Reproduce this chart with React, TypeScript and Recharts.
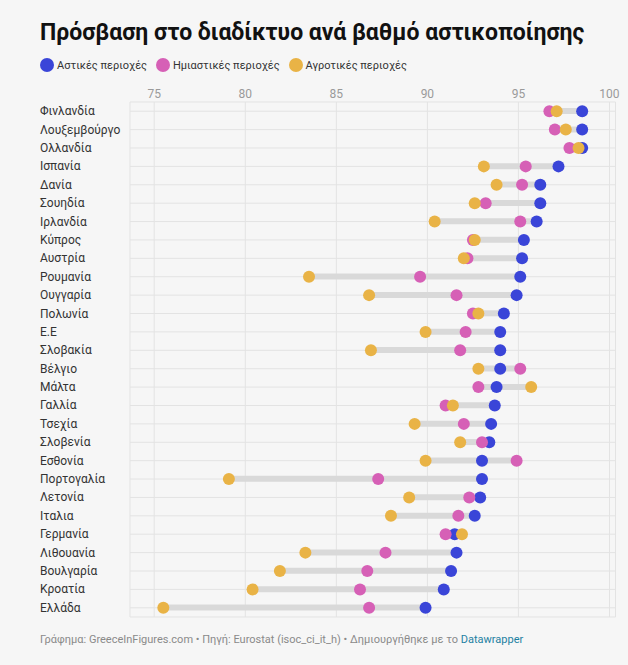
import { Bar, CartesianGrid, ComposedChart, Line, XAxis, YAxis } from 'recharts';

const countries = [
  'Φινλανδία', 'Λουξεμβούργο', 'Ολλανδία', 'Ισπανία', 'Δανία', 'Σουηδία', 'Ιρλανδία',
  'Κύπρος', 'Αυστρία', 'Ρουμανία', 'Ουγγαρία', 'Πολωνία', 'Ε.Ε', 'Σλοβακία',
  'Βέλγιο', 'Μάλτα', 'Γαλλία', 'Τσεχία', 'Σλοβενία', 'Εσθονία', 'Πορτογαλία',
  'Λετονία', 'Ιταλια', 'Γερμανία', 'Λιθουανία', 'Βουλγαρία', 'Κροατία', 'Ελλάδα',
];

const urban = [98.5, 98.5, 98.5, 97.2, 96.2, 96.2, 96.0, 95.3, 95.2, 95.1, 94.9, 94.2, 94.0, 94.0,
  94.0, 93.8, 93.7, 93.5, 93.4, 93.0, 93.0, 92.9, 92.6, 91.5, 91.6, 91.3, 90.9, 89.9];
const semiUrban = [96.7, 97.0, 97.8, 95.4, 95.2, 93.2, 95.1, 92.5, 92.2, 89.6, 91.6, 92.5, 92.1, 91.8,
  95.1, 92.8, 91.0, 92.0, 93.0, 94.9, 87.3, 92.3, 91.7, 91.0, 87.7, 86.7, 86.3, 86.8];
const rural = [97.1, 97.6, 98.3, 93.1, 93.8, 92.6, 90.4, 92.6, 92.0, 83.5, 86.8, 92.8, 89.9, 86.9,
  92.8, 95.7, 91.4, 89.3, 91.8, 89.9, 79.1, 89.0, 88.0, 91.9, 83.3, 81.9, 80.4, 75.5];

const ticks = [75, 80, 85, 90, 95, 100];

const SERIES = [
  { key: 'urban', name: 'Αστικές περιοχές', color: '#3a45d8' },
  { key: 'semi', name: 'Ημιαστικές περιοχές', color: '#d660b6' },
  { key: 'rural', name: 'Αγροτικές περιοχές', color: '#e9b346' },
];

const FONT = 'Roboto, "Noto Sans", sans-serif';

const data = countries.map((country, i) => ({
  country,
  urban: urban[i],
  semi: semiUrban[i],
  rural: rural[i],
  range: [Math.min(urban[i], semiUrban[i], rural[i]), Math.max(urban[i], semiUrban[i], rural[i])],
}));

function CountryTick({ y, payload }: any) {
  return (
    <text x={40} y={y} dy={4} textAnchor="start" fontSize={12} fill="#333" fontFamily={FONT}>
      {payload.value}
    </text>
  );
}

export default function App() {
  return (
    <div style={{ position: 'relative', width: 628, height: 665, background: '#f6f6f6', fontFamily: FONT }}>
      <style>{'body{margin:0;background:#f6f6f6}'}</style>
      <div style={{ position: 'absolute', left: 40, top: 19, fontSize: 23, fontWeight: 700, color: '#111' }}>
        Πρόσβαση στο διαδίκτυο ανά βαθμό αστικοποίησης
      </div>
      <div style={{ position: 'absolute', left: 40, top: 58, display: 'flex', gap: 9, fontSize: 11, color: '#333' }}>
        {SERIES.map((s) => (
          <div key={s.key} style={{ display: 'flex', alignItems: 'center', gap: 3 }}>
            <span style={{ width: 14, height: 14, borderRadius: '50%', background: s.color, display: 'inline-block' }} />
            {s.name}
          </div>
        ))}
      </div>
      <div style={{ position: 'absolute', left: 0, top: 0 }}>
        <ComposedChart
          width={628}
          height={631}
          data={data}
          layout="vertical"
          margin={{ top: 72, right: 12.5, bottom: 14, left: 0 }}
        >
          <CartesianGrid stroke="#e3e3e3" />
          <XAxis
            type="number"
            orientation="top"
            domain={[73.67, 100.33]}
            allowDataOverflow
            ticks={ticks}
            height={30}
            axisLine={false}
            tickLine={false}
            tickSize={0}
            tickMargin={4}
            tick={{ fontSize: 12, fill: '#9a9a9a', fontFamily: FONT }}
          />
          <YAxis
            type="category"
            dataKey="country"
            width={130}
            axisLine={false}
            tickLine={false}
            tick={<CountryTick />}
            interval={0}
          />
          <Bar dataKey="range" barSize={6} fill="#d9d9d9" isAnimationActive={false} />
          {SERIES.map((s) => (
            <Line
              key={s.key}
              dataKey={s.key}
              stroke="none"
              dot={{ r: 6, fill: s.color, stroke: 'none' }}
              activeDot={false}
              isAnimationActive={false}
            />
          ))}
        </ComposedChart>
      </div>
      <div style={{ position: 'absolute', left: 40, top: 633, fontSize: 11, color: '#8a8a8a' }}>
        Γράφημα: GreeceInFigures.com • Πηγή: Eurostat (isoc_ci_it_h) • Δημιουργήθηκε με το{' '}
        <span style={{ color: '#1d81a2' }}>Datawrapper</span>
      </div>
    </div>
  );
}
